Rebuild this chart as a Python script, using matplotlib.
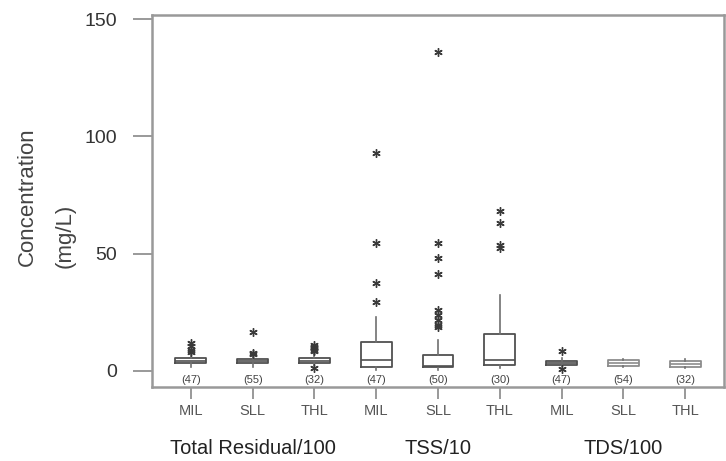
import matplotlib
matplotlib.use("Agg")
import matplotlib.pyplot as plt
import matplotlib.transforms as mtransforms

plt.rcParams['font.family'] = ['Liberation Sans', 'DejaVu Sans']

# ---- data ----
sites = ["MIL", "SLL", "THL", "MIL", "SLL", "THL", "MIL", "SLL", "THL"]
groups = ["Total Residual/100", "TSS/10", "TDS/100"]
counts = [47, 55, 32, 47, 50, 30, 47, 54, 32]
q1 = [3.4, 3.1, 3.4, 1.45, 1.45, 2.4, 2.4, 2.1, 1.7]
med = [4.3, 4.0, 4.3, 4.6, 2.0, 4.6, 3.3, 3.4, 3.0]
q3 = [5.3, 5.0, 5.3, 12.4, 6.7, 15.5, 4.1, 4.6, 4.3]
whislo = [1.7, 1.7, 2.0, 0.3, 0.5, 1.2, 1.5, 1.8, 1.0]
whishi = [7.0, 6.5, 7.5, 23.0, 13.1, 32.3, 5.5, 4.9, 4.9]
fliers = [
    [12.0, 10.5, 8.8, 8.0],
    [16.4, 7.6, 7.2],
    [11.0, 10.3, 9.6, 9.0, 8.4, 1.0],
    [92.8, 54.6, 37.6, 29.3],
    [136.0, 54.6, 48.2, 41.1, 25.9, 23.8, 21.6, 19.5, 18.8],
    [68.3, 63.2, 53.7, 52.5],
    [8.3, 0.6],
    [],
    [],
]
yticks = [0, 50, 100, 150]

# ---- figure ----
W, H = 726, 461
fig = plt.figure(figsize=(W / 100, H / 100), dpi=100)
ax = fig.add_axes([152 / W, 1 - 386.7 / H, (724 - 152) / W, (386.7 - 15) / H])

positions = list(range(len(sites)))
stats = []
for i in positions:
    stats.append(dict(med=med[i], q1=q1[i], q3=q3[i], whislo=whislo[i],
                      whishi=whishi[i], fliers=fliers[i]))

box_colors = ['#505050'] * 7 + ['#8c8c8c', '#8c8c8c']
bp = ax.bxp(stats, positions=positions, widths=0.5, showcaps=False,
            patch_artist=False,
            boxprops=dict(color='#505050', linewidth=1.3),
            whiskerprops=dict(color='#707070', linewidth=1.2),
            medianprops=dict(color='#505050', linewidth=1.2),
            flierprops=dict(marker=(6, 2, 0), markersize=6,
                            markeredgecolor='#3a3a3a', markeredgewidth=1.0,
                            linestyle='none'))
for i, b in enumerate(bp['boxes']):
    b.set_color(box_colors[i])
for i, m in enumerate(bp['medians']):
    m.set_color(box_colors[i])

# counts inside the plot
for i, n in enumerate(counts):
    ax.text(i, -4.0, f"({n})", ha='center', va='center', fontsize=8,
            color='#444444')

ax.set_xlim(-0.63, 8.63)
ax.set_ylim(-6.8, 151.8)
ax.set_yticks(yticks)
ax.set_yticklabels([str(t) for t in yticks], fontsize=14, color='#333333')
ax.set_xticks(positions)
ax.set_xticklabels(sites, fontsize=10.5, color='#555555')
ax.tick_params(axis='y', length=14, width=1.2, color='#888888', pad=11)
ax.tick_params(axis='x', length=8.5, width=1.2, color='#888888', pad=4)

for sp in ax.spines.values():
    sp.set_color('#999999')
    sp.set_linewidth(1.8)

# group labels
trans = mtransforms.blended_transform_factory(ax.transData, fig.transFigure)
for g, name in enumerate(groups):
    ax.text(3 * g + 1, 1 - 448 / H, name, transform=trans, ha='center',
            va='center', fontsize=14.5, color='#222222', clip_on=False)

# y-axis label (two pieces)
fig.text(27 / W, 1 - 197 / H, "Concentration", rotation=90, ha='center',
         va='center', fontsize=16, color='#444444')
fig.text(65 / W, 1 - 236 / H, "(mg/L)", rotation=90, ha='center',
         va='center', fontsize=16, color='#444444')

fig.savefig("out.png", dpi=100)
